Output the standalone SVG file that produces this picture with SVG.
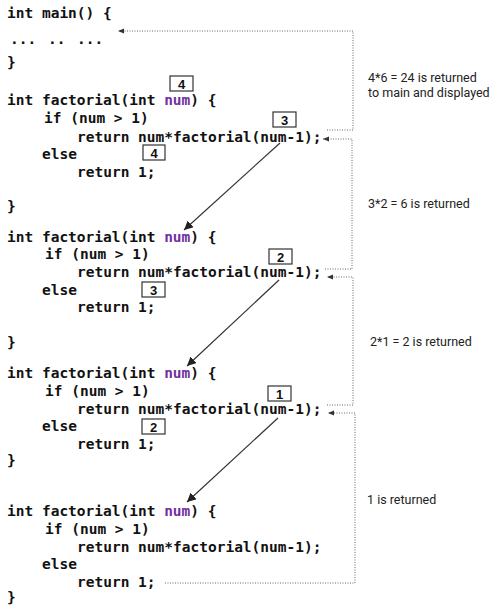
<svg xmlns="http://www.w3.org/2000/svg" width="495" height="605" viewBox="0 0 495 605">
<style>
.code{font-family:"DejaVu Sans Mono","Liberation Mono",monospace;font-weight:bold;font-size:14.5px;fill:#111;white-space:pre}
.var{fill:#7030a0}
.box{fill:none;stroke:#333;stroke-width:1.2}
.num{font-family:"Liberation Sans",Arial,sans-serif;font-weight:bold;font-size:13px;fill:#111;text-anchor:middle}
.lbl{font-family:Roboto,"Liberation Sans",sans-serif;font-size:12.5px;fill:#222}
.dot{fill:none;stroke:#666;stroke-width:1;stroke-dasharray:1 1.5}
.sol{fill:none;stroke:#333;stroke-width:1.2}
</style>
<defs>
<marker id="ah" viewBox="0 0 10 10" refX="10" refY="5" markerWidth="9" markerHeight="9" markerUnits="userSpaceOnUse" orient="auto">
<path d="M0,0 L10,5 L0,10 z" fill="#222"/>
</marker>
<marker id="dh" viewBox="0 0 10 10" refX="10" refY="5" markerWidth="6" markerHeight="6" markerUnits="userSpaceOnUse" orient="auto">
<path d="M0,1 L10,5 L0,9 z" fill="#333"/>
</marker>
</defs>
<g id="main">
<text class="code" x="7" y="18">int main() {</text>
<text class="code" x="10" y="44" word-spacing="3">... .. ...</text>
<text class="code" x="7" y="67">}</text>
</g>
<g id="factorial1">
<text class="code" x="7" y="105">int factorial(int <tspan class="var">num</tspan>) {</text>
<text class="code" x="44" y="123">if (num &gt; 1)</text>
<text class="code" x="77" y="142">return num*factorial(num-1);</text>
<text class="code" x="42" y="159">else</text>
<text class="code" x="77" y="177">return 1;</text>
<text class="code" x="7" y="211">}</text>
</g>
<g id="factorial2">
<text class="code" x="7" y="242">int factorial(int <tspan class="var">num</tspan>) {</text>
<text class="code" x="45" y="259">if (num &gt; 1)</text>
<text class="code" x="77" y="277">return num*factorial(num-1);</text>
<text class="code" x="42" y="295">else</text>
<text class="code" x="77" y="312">return 1;</text>
<text class="code" x="7" y="347">}</text>
</g>
<g id="factorial3">
<text class="code" x="7" y="378">int factorial(int <tspan class="var">num</tspan>) {</text>
<text class="code" x="45" y="396">if (num &gt; 1)</text>
<text class="code" x="77" y="414">return num*factorial(num-1);</text>
<text class="code" x="42" y="431">else</text>
<text class="code" x="77" y="449">return 1;</text>
<text class="code" x="7" y="465">}</text>
</g>
<g id="factorial4">
<text class="code" x="7" y="516">int factorial(int <tspan class="var">num</tspan>) {</text>
<text class="code" x="45" y="534">if (num &gt; 1)</text>
<text class="code" x="77" y="552">return num*factorial(num-1);</text>
<text class="code" x="42" y="569">else</text>
<text class="code" x="77" y="587">return 1;</text>
<text class="code" x="7" y="602">}</text>
</g>
<g id="box-4a"><rect class="box" x="170" y="76" width="23" height="15"/><text class="num" x="181.5" y="88.5">4</text></g>
<g id="box-3a"><rect class="box" x="273" y="112" width="23" height="15"/><text class="num" x="284.5" y="124.5">3</text></g>
<g id="box-4b"><rect class="box" x="143" y="145" width="22" height="15"/><text class="num" x="154" y="157.5">4</text></g>
<g id="box-2a"><rect class="box" x="269" y="249" width="23" height="15"/><text class="num" x="280.5" y="261.5">2</text></g>
<g id="box-3b"><rect class="box" x="142" y="282" width="23" height="15"/><text class="num" x="153.5" y="294.5">3</text></g>
<g id="box-1a"><rect class="box" x="268" y="386" width="23" height="15"/><text class="num" x="279.5" y="398.5">1</text></g>
<g id="box-2b"><rect class="box" x="142" y="419" width="23" height="15"/><text class="num" x="153.5" y="431.5">2</text></g>
<g id="labels">
<text class="lbl" x="368" y="82">4*6 = 24 is returned</text>
<text class="lbl" x="368" y="97">to main and displayed</text>
<text class="lbl" x="368" y="208">3*2 = 6 is returned</text>
<text class="lbl" x="370" y="346">2*1 = 2 is returned</text>
<text class="lbl" x="367" y="504">1 is returned</text>
</g>
<g id="connectors">
<path class="dot" d="M327,130 H353 V31 H118" marker-end="url(#dh)"/>
<path class="dot" d="M325,269 H352 V139 H323" marker-end="url(#dh)"/>
<path class="dot" d="M327,405 H353 V277 H327" marker-end="url(#dh)"/>
<path class="dot" d="M165,583 H355 V413 H328" marker-end="url(#dh)"/>
<path class="sol" d="M280,143 L184,230" marker-end="url(#ah)"/>
<path class="sol" d="M279,280 L187,366" marker-end="url(#ah)"/>
<path class="sol" d="M278,418 L187,502" marker-end="url(#ah)"/>
</g>
</svg>
